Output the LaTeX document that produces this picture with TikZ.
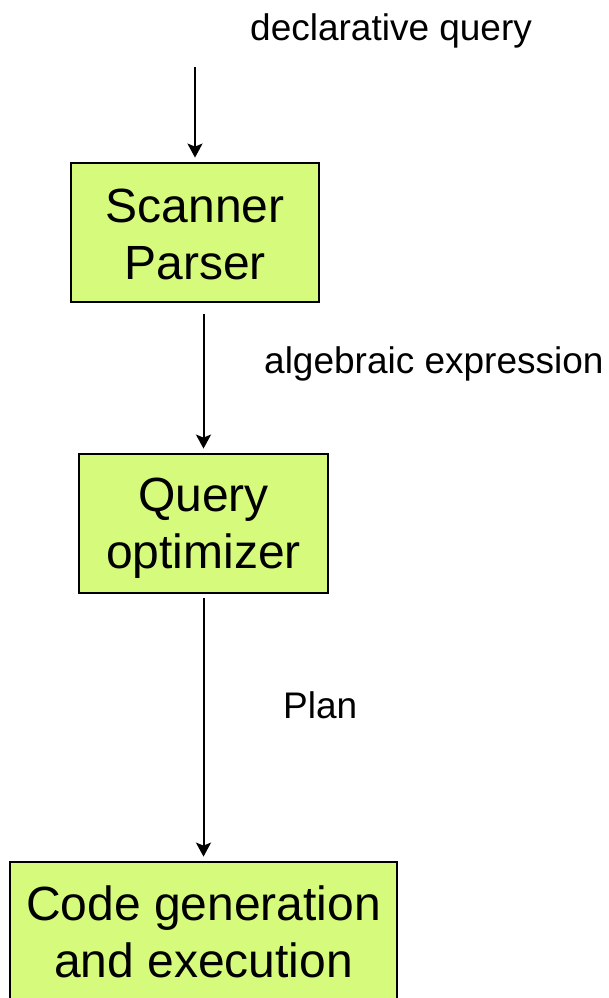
\documentclass[tikz,border=0pt]{standalone}
\usepackage{fontspec}
\setmainfont{Liberation Sans}
\usetikzlibrary{arrows.meta}
\definecolor{boxfill}{RGB}{214,250,124}
\tikzset{
  stage/.style={draw=black, line width=2.8pt, fill=boxfill, inner sep=0pt},
  stagetext/.style={inner sep=0pt, align=center, font=\fontsize{48}{57}\selectfont},
  flow/.style={line width=2pt, -{Stealth[length=14pt, width=15pt, inset=3pt]}},
  lbl/.style={inner sep=0pt, font=\fontsize{37}{44}\selectfont}
}
\begin{document}
\begin{tikzpicture}[x=1pt, y=-1pt]
  \useasboundingbox (0,0) rectangle (608,998);
  \clip (0,0) rectangle (608,998);
  % processing stages
  \node[stage, minimum width=248pt, minimum height=139pt] (sp) at (195,232.5) {};
  \node[stagetext] (spt) at ([yshift=-2pt]sp.center) {Scanner\\Parser};
  \node[stage, minimum width=249pt, minimum height=139pt] (qo) at (203.5,523.5) {};
  \node[stagetext] (qot) at ([yshift=-5pt]qo.center) {Query\\optimizer};
  \node[stage, minimum width=387pt, minimum height=140pt] (cg) at (203.5,932) {};
  \node[stagetext] (cgt) at (cg.center) {Code generation\\and execution};
  % incoming query
  \coordinate (src) at (195,67);
  \draw[flow, shorten >=4pt] (src) -- (sp.north);
  \draw[flow, shorten >=4pt] ([yshift=-11pt]sp.south -| qo.north) -- (qo.north);
  \draw[flow, shorten <=4pt, shorten >=4pt] (qo.south) -- (cg.north);
  % edge labels
  \node[lbl, anchor=base west] (l1) at (250,41) {declarative query};
  \node[lbl, anchor=base west] (l2) at (264,373) {algebraic expression};
  \node[lbl, anchor=base west] (l3) at (283,718) {Plan};
\end{tikzpicture}
\end{document}
